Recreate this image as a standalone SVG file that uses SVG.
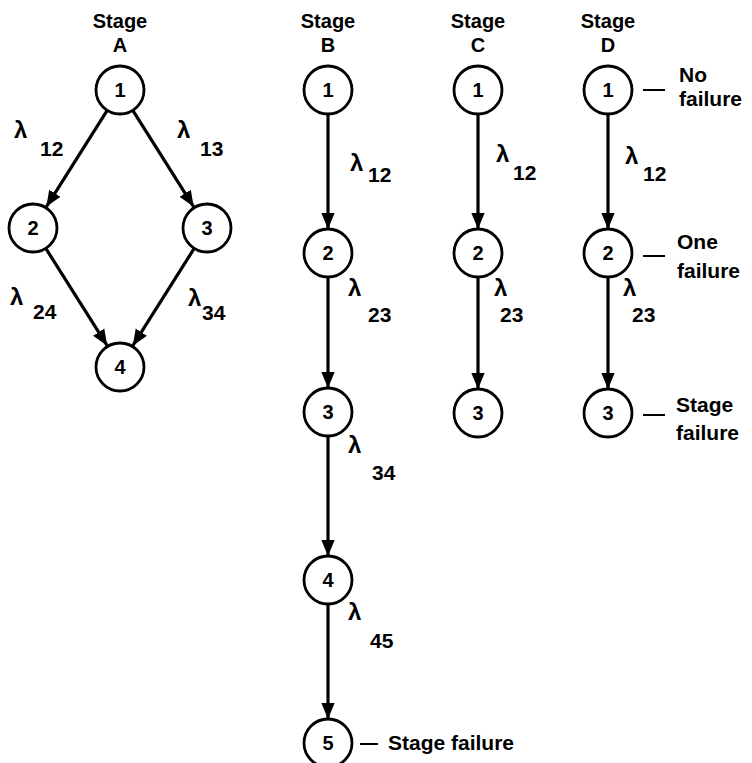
<svg xmlns="http://www.w3.org/2000/svg" width="752" height="763" viewBox="0 0 752 763">
<defs>
<marker id="ah" markerUnits="userSpaceOnUse" markerWidth="16" markerHeight="18" viewBox="0 0 18 15" refX="18" refY="7.5" orient="auto">
<path d="M0,0 L18,7.5 L0,15 Z" fill="#000"/>
</marker>
</defs>
<style>
text{font-family:"Liberation Sans",Arial,sans-serif;fill:#000;font-weight:bold;}
.n{font-size:20px;text-anchor:middle;}
.l{font-size:24px;}
.s{font-size:21px;}
circle{fill:#fff;stroke:#000;stroke-width:2.8;}
.c path{stroke:#000;stroke-width:3.2;fill:none;marker-end:url(#ah);}
.dash{stroke:#000;stroke-width:2;}
</style>
<rect width="752" height="763" fill="#fff"/>
<g id="headers">
<text class="n" x="120" y="28">Stage</text><text class="n" x="120" y="52">A</text>
<text class="n" x="328" y="28">Stage</text><text class="n" x="328" y="52">B</text>
<text class="n" x="478" y="28">Stage</text><text class="n" x="478" y="52">C</text>
<text class="n" x="608" y="28">Stage</text><text class="n" x="608" y="52">D</text>
</g>
<g class="c" id="connectors">
<path d="M107.2,110.3 L46.3,206.8"/>
<path d="M132.8,110.3 L193.7,206.8"/>
<path d="M46.3,249.2 L107.2,345.7"/>
<path d="M193.7,249.2 L132.8,345.7"/>
<path d="M328,114 L328,229"/>
<path d="M328,277 L328,388"/>
<path d="M328,436 L328,556"/>
<path d="M328,604 L328,719"/>
<path d="M478,114 L478,229"/>
<path d="M478,277 L478,389"/>
<path d="M608,114 L608,229"/>
<path d="M608,277 L608,389"/>
</g>
<g id="A1"><circle cx="120" cy="90" r="24"/><text class="n" x="120" y="97">1</text></g>
<g id="A2"><circle cx="33" cy="228" r="24"/><text class="n" x="33" y="235">2</text></g>
<g id="A3"><circle cx="207" cy="228" r="24"/><text class="n" x="207" y="235">3</text></g>
<g id="A4"><circle cx="120" cy="367" r="24"/><text class="n" x="120" y="374">4</text></g>
<g id="B1"><circle cx="328" cy="90" r="24"/><text class="n" x="328" y="97">1</text></g>
<g id="B2"><circle cx="328" cy="253" r="24"/><text class="n" x="328" y="260">2</text></g>
<g id="B3"><circle cx="328" cy="412" r="24"/><text class="n" x="328" y="419">3</text></g>
<g id="B4"><circle cx="328" cy="580" r="24"/><text class="n" x="328" y="587">4</text></g>
<g id="B5"><circle cx="328" cy="743" r="24"/><text class="n" x="328" y="750">5</text></g>
<g id="C1"><circle cx="478" cy="90" r="24"/><text class="n" x="478" y="97">1</text></g>
<g id="C2"><circle cx="478" cy="253" r="24"/><text class="n" x="478" y="260">2</text></g>
<g id="C3"><circle cx="478" cy="413" r="24"/><text class="n" x="478" y="420">3</text></g>
<g id="D1"><circle cx="608" cy="90" r="24"/><text class="n" x="608" y="97">1</text></g>
<g id="D2"><circle cx="608" cy="253" r="24"/><text class="n" x="608" y="260">2</text></g>
<g id="D3"><circle cx="608" cy="413" r="24"/><text class="n" x="608" y="420">3</text></g>
<g id="labels">
<text class="l" x="14" y="138">λ</text><text class="s" x="40" y="156">12</text>
<text class="l" x="177" y="138">λ</text><text class="s" x="200" y="156">13</text>
<text class="l" x="10" y="305">λ</text><text class="s" x="33" y="319">24</text>
<text class="l" x="188" y="306">λ</text><text class="s" x="202" y="320">34</text>
<text class="l" x="350" y="171">λ</text><text class="s" x="368" y="182">12</text>
<text class="l" x="348" y="296">λ</text><text class="s" x="368" y="322">23</text>
<text class="l" x="348" y="453">λ</text><text class="s" x="372" y="480">34</text>
<text class="l" x="348" y="620">λ</text><text class="s" x="370" y="648">45</text>
<text class="l" x="496" y="162">λ</text><text class="s" x="513" y="180">12</text>
<text class="l" x="494" y="296">λ</text><text class="s" x="500" y="322">23</text>
<text class="l" x="625" y="164">λ</text><text class="s" x="643" y="181">12</text>
<text class="l" x="623" y="296">λ</text><text class="s" x="632" y="322">23</text>
</g>
<g id="notes">
<line class="dash" x1="643" y1="90" x2="665" y2="90"/>
<text class="s" x="679" y="82">No</text><text class="s" x="679" y="106">failure</text>
<line class="dash" x1="643" y1="256" x2="665" y2="256"/>
<text class="s" x="677" y="249">One</text><text class="s" x="677" y="278">failure</text>
<line class="dash" x1="643" y1="415" x2="665" y2="415"/>
<text class="s" x="676" y="412">Stage</text><text class="s" x="676" y="440">failure</text>
<line class="dash" x1="360" y1="744" x2="378" y2="744"/>
<text class="s" x="388" y="750">Stage failure</text>
</g>
</svg>
